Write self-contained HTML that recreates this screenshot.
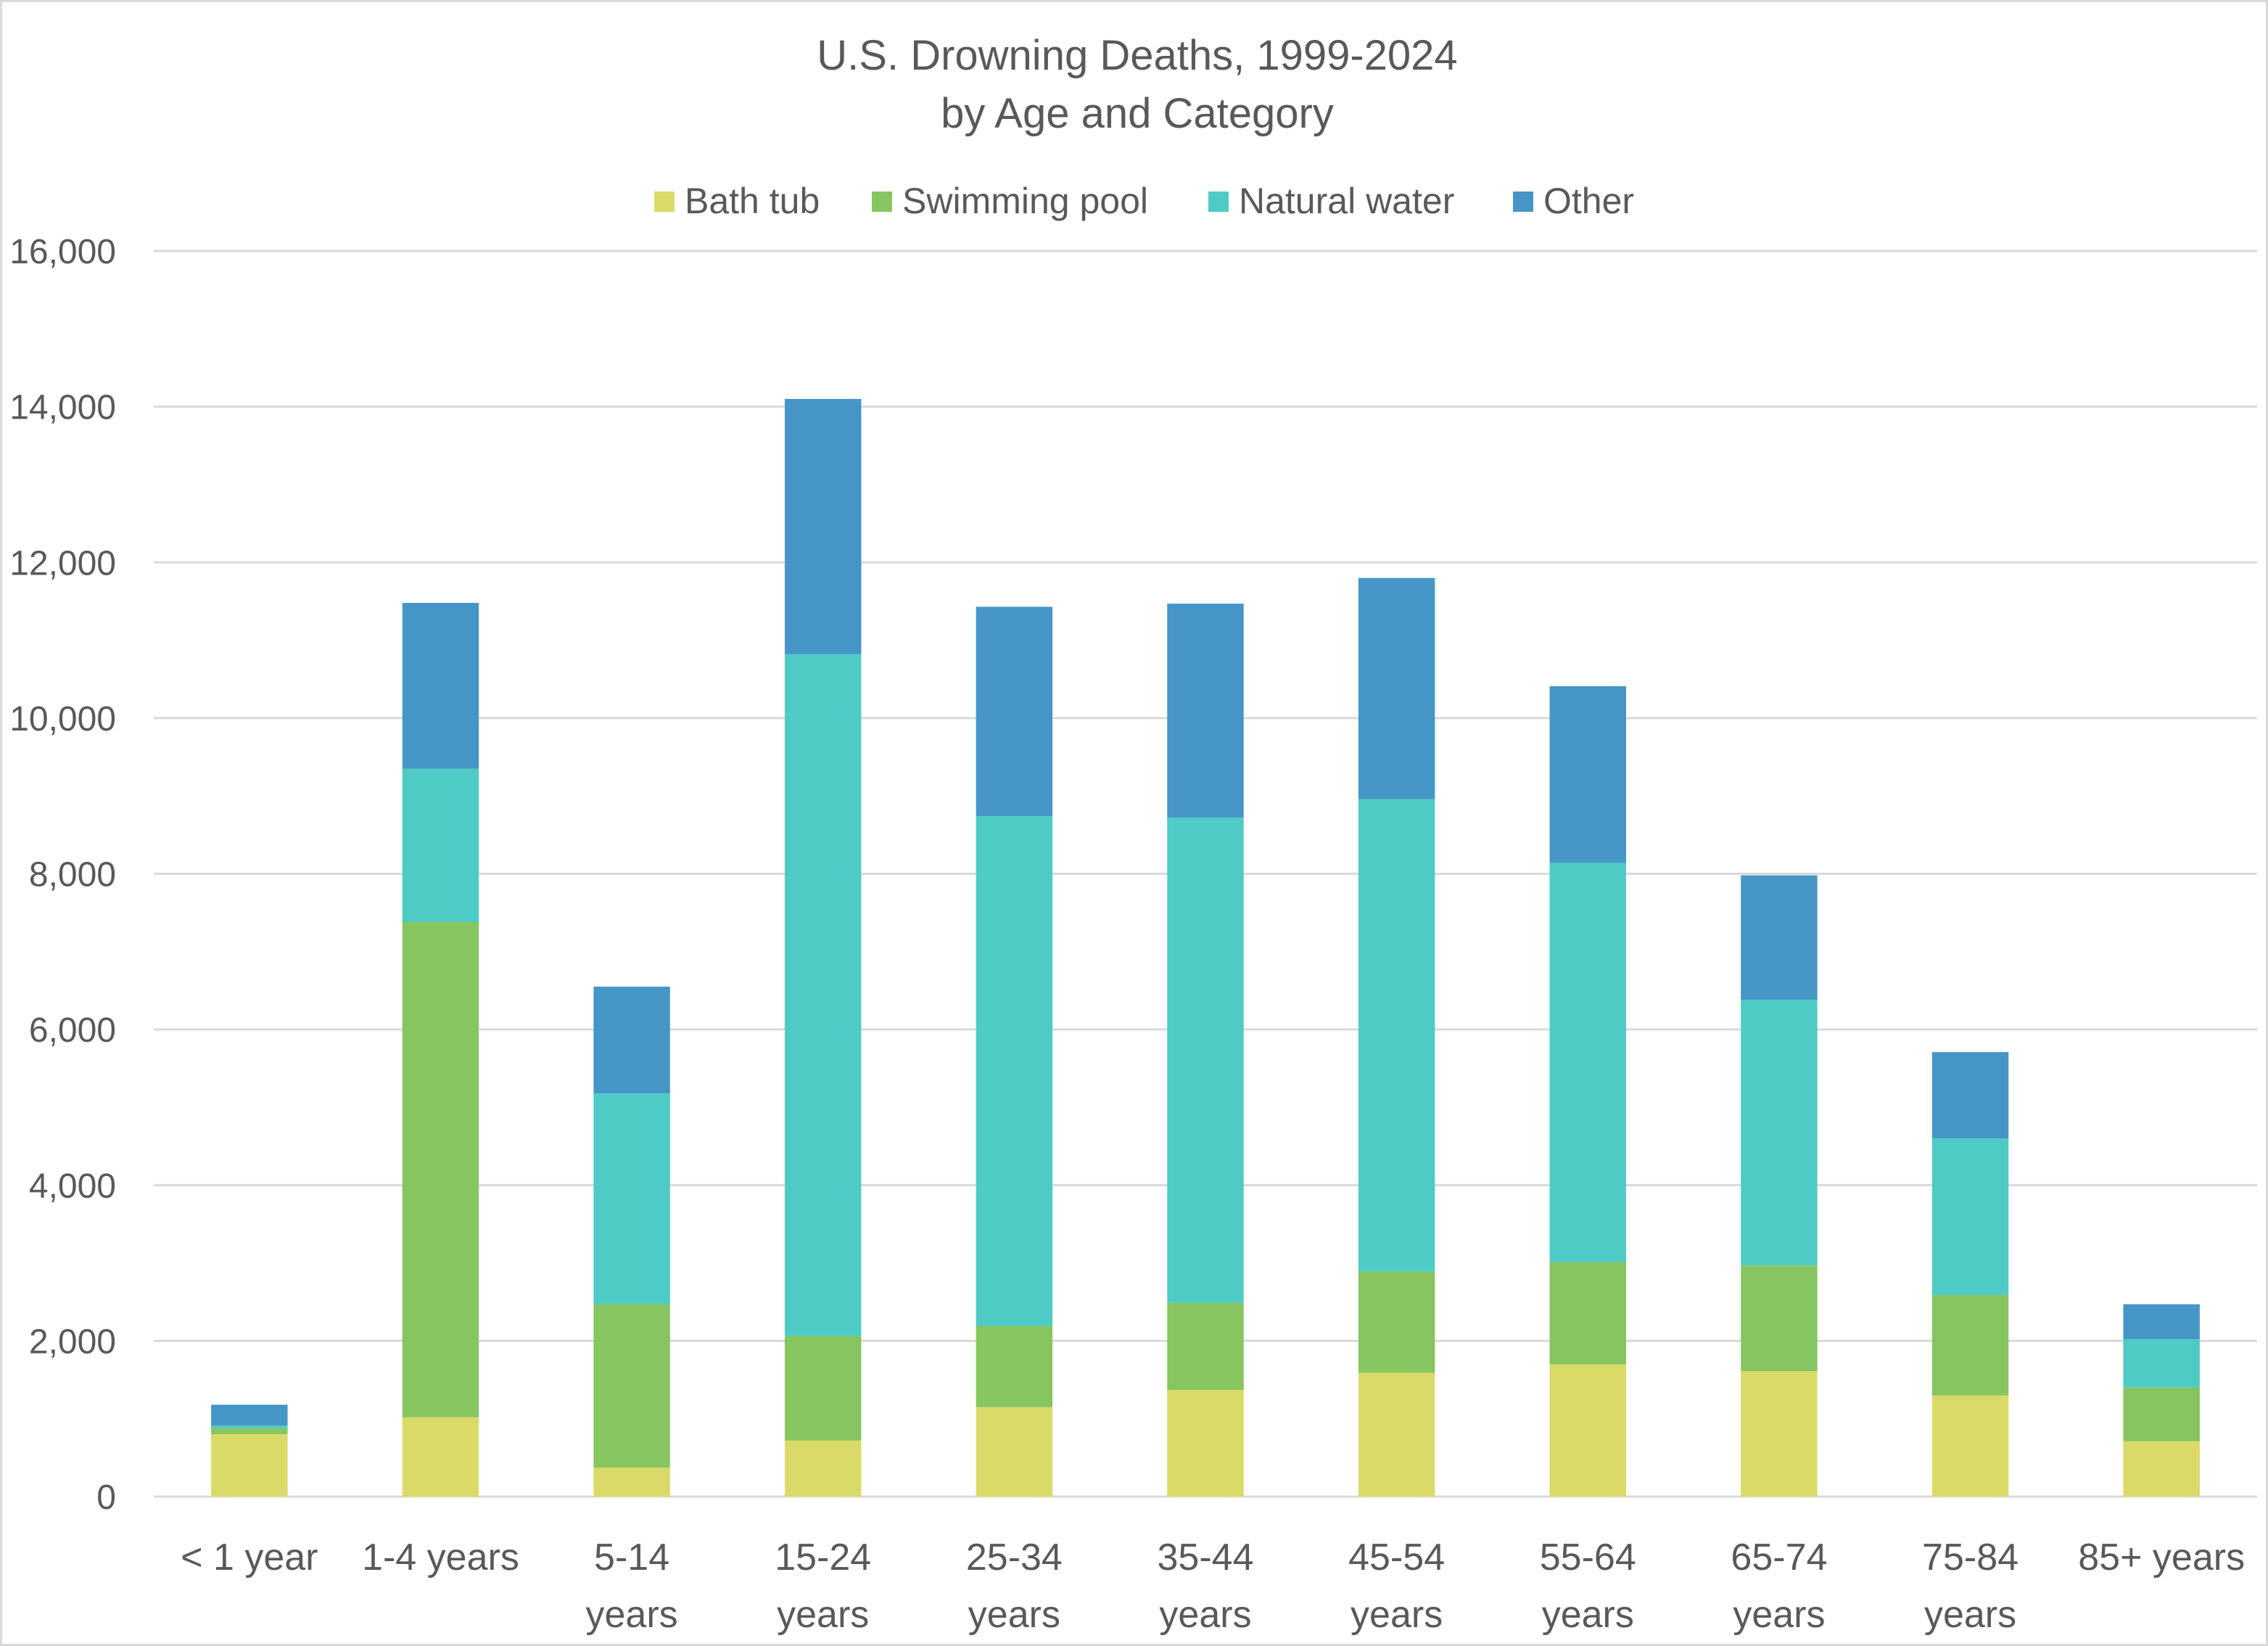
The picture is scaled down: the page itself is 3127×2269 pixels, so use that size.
<!DOCTYPE html>
<html><head><meta charset="utf-8"><style>
html,body{margin:0;padding:0;background:#fff}
svg{display:block}
text{font-family:"Liberation Sans",sans-serif;fill:#595959}
</style></head><body>
<svg id="chart" width="3127" height="2269" viewBox="0 0 3127 2269" xmlns="http://www.w3.org/2000/svg">
<rect x="1.5" y="1.5" width="3124" height="2266" fill="#fff" stroke="#d9d9d9" stroke-width="3"/>
<text x="1568" y="96" font-size="58" text-anchor="middle">U.S. Drowning Deaths, 1999-2024</text>
<text x="1568" y="176" font-size="58" text-anchor="middle">by Age and Category</text>
<g id="legend"></g>
<g id="grid"></g>
<g id="bars"></g>
<g id="xlabels"></g>
<g id="ylabels"></g>
</svg>
<script>
const categories = [["< 1 year"],["1-4 years"],["5-14","years"],["15-24","years"],["25-34","years"],["35-44","years"],["45-54","years"],["55-64","years"],["65-74","years"],["75-84","years"],["85+ years"]];
const seriesNames = ["Bath tub","Swimming pool","Natural water","Other"];
const bathTub = [800,1020,370,720,1150,1370,1590,1700,1610,1300,710];
const swimmingPool = [80,6360,2100,1340,1040,1120,1300,1310,1360,1290,690];
const naturalWater = [30,1970,2710,8760,6550,6230,6070,5130,3410,2010,620];
const other = [270,2130,1370,3280,2690,2750,2840,2270,1600,1110,450];
const yTicks = [0,2000,4000,6000,8000,10000,12000,14000,16000];
const colors = ["#dada69","#86c560","#4ecbc4","#4596c7"];
const NS = "http://www.w3.org/2000/svg";
const plotL = 212, plotR = 3112, y0 = 2063, yTop = 346, yMax = 16000;
const band = (plotR - plotL) / categories.length;
const barW = band * 0.4;
function yScale(v){ return y0 - (v / yMax) * (y0 - yTop); }
function xCenter(i){ return plotL + band * (i + 0.5); }
function mk(tag, attrs, parent){ const e = document.createElementNS(NS, tag); for (const k in attrs) e.setAttribute(k, attrs[k]); parent.appendChild(e); return e; }
const grid = document.getElementById('grid'), yl = document.getElementById('ylabels');
yTicks.forEach(t => {
  const ln = mk('line', {x1: plotL, x2: plotR, y1: yScale(t), y2: yScale(t), stroke: '#d9d9d9', 'stroke-width': 3}, grid);
  
  
  const tx = mk('text', {x: 160, y: yScale(t) + 17, 'font-size': 48, 'text-anchor': 'end'}, yl);
  tx.textContent = t.toLocaleString('en-US');
  
  
});
const series = [bathTub, swimmingPool, naturalWater, other];
const bars = document.getElementById('bars');
categories.forEach((c, i) => {
  let acc = 0;
  series.forEach((s, si) => {
    const v = s[i];
    const r = mk('rect', {x: xCenter(i) - barW / 2, y: yScale(acc + v), width: barW, height: yScale(acc) - yScale(acc + v), fill: colors[si]}, bars);
    
    
    acc += v;
  });
});
const xl = document.getElementById('xlabels');
categories.forEach((c, i) => {
  c.forEach((line, li) => {
    const tx = mk('text', {x: xCenter(i), y: 2164 + li * 79, 'font-size': 52, 'text-anchor': 'middle'}, xl);
    tx.textContent = line;
    
    
  });
});
const lg = document.getElementById('legend');
const legendX = [902, 1202, 1666, 2086];
seriesNames.forEach((n, i) => {
  const g = mk('g', {}, lg);
  
  
  mk('rect', {x: legendX[i], y: 264, width: 28, height: 28, fill: colors[i]}, g);
  const tx = mk('text', {x: legendX[i] + 42, y: 294, 'font-size': 50}, g);
  tx.textContent = n;
});
</script>
</body></html>
